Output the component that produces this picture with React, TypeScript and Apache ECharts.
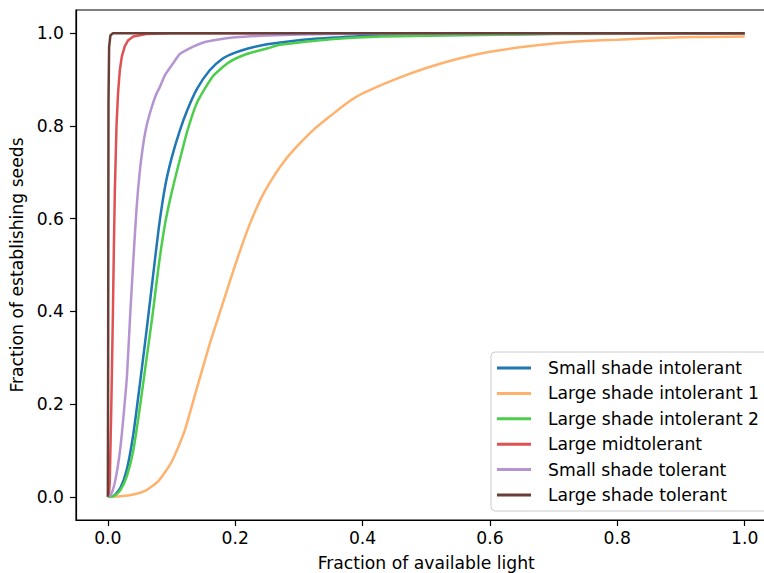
import React, { useEffect, useRef } from "react";
import * as echarts from "echarts";

const seriesNames = [
  "Small shade intolerant",
  "Large shade intolerant 1",
  "Large shade intolerant 2",
  "Large midtolerant",
  "Small shade tolerant",
  "Large shade tolerant",
];
const seriesColors = ["#1f77b4", "#ffb26e", "#4ccd4c", "#de5253", "#b495d1", "#683e38"];

const tickValues = [0, 0.2, 0.4, 0.6, 0.8, 1.0];

// Small shade intolerant
const smallIntolX = [0, 0.01, 0.02, 0.03, 0.04, 0.05, 0.06, 0.07, 0.08, 0.09, 0.1, 0.113, 0.125, 0.14, 0.16, 0.18, 0.2, 0.22, 0.25, 0.3, 0.35, 0.4, 0.5, 0.6, 0.8, 1.0];
const smallIntolY = [0, 0.003, 0.02, 0.06, 0.135, 0.24, 0.35, 0.465, 0.58, 0.67, 0.73, 0.79, 0.835, 0.88, 0.92, 0.945, 0.958, 0.967, 0.976, 0.985, 0.99, 0.994, 0.997, 0.998, 0.999, 1.0];

// Large shade intolerant 1
const largeIntol1X = [0, 0.02, 0.04, 0.06, 0.08, 0.1, 0.12, 0.14, 0.16, 0.18, 0.2, 0.22, 0.24, 0.26, 0.28, 0.3, 0.325, 0.35, 0.375, 0.4, 0.45, 0.5, 0.55, 0.6, 0.65, 0.7, 0.75, 0.8, 0.85, 0.9, 0.95, 1.0];
const largeIntol1Y = [0, 0.001, 0.005, 0.014, 0.035, 0.075, 0.14, 0.235, 0.33, 0.415, 0.5, 0.578, 0.642, 0.69, 0.729, 0.76, 0.794, 0.822, 0.849, 0.87, 0.9, 0.925, 0.945, 0.96, 0.97, 0.978, 0.983, 0.986, 0.989, 0.991, 0.992, 0.993];

// Large shade intolerant 2
const largeIntol2X = [0, 0.01, 0.02, 0.03, 0.04, 0.05, 0.06, 0.07, 0.08, 0.09, 0.1, 0.113, 0.125, 0.14, 0.165, 0.19, 0.218, 0.25, 0.27, 0.3, 0.35, 0.43, 0.53, 0.7, 1.0];
const largeIntol2Y = [0, 0.002, 0.015, 0.045, 0.1, 0.19, 0.29, 0.39, 0.5, 0.59, 0.655, 0.727, 0.79, 0.85, 0.907, 0.937, 0.955, 0.967, 0.975, 0.98, 0.987, 0.993, 0.995, 0.998, 0.999];

// Large midtolerant
const midTolX = [0, 0.002, 0.003, 0.0055, 0.008, 0.0094, 0.011, 0.0136, 0.016, 0.0188, 0.022, 0.0267, 0.032, 0.04, 0.06, 0.1, 1.0];
const midTolY = [0, 0.01, 0.03, 0.2, 0.4, 0.53, 0.66, 0.8, 0.87, 0.92, 0.95, 0.972, 0.985, 0.993, 0.998, 1.0, 1.0];

// Small shade tolerant
const smallTolX = [0, 0.005, 0.01, 0.015, 0.02, 0.025, 0.03, 0.035, 0.04, 0.045, 0.05, 0.055, 0.06, 0.066, 0.075, 0.082, 0.09, 0.1026, 0.113, 0.134, 0.15, 0.171, 0.2, 0.25, 0.3, 0.4, 1.0];
const smallTolY = [0, 0.005, 0.025, 0.06, 0.11, 0.18, 0.26, 0.39, 0.51, 0.62, 0.7, 0.755, 0.795, 0.827, 0.865, 0.885, 0.91, 0.935, 0.955, 0.971, 0.98, 0.986, 0.991, 0.995, 0.997, 0.999, 1.0];

// Large shade tolerant
const largeTolX = [0, 0.0005, 0.001, 0.002, 0.004, 0.008, 1.0];
const largeTolY = [0, 0.3, 0.85, 0.97, 0.995, 1.0, 1.0];

const allX = [smallIntolX, largeIntol1X, largeIntol2X, midTolX, smallTolX, largeTolX];
const allY = [smallIntolY, largeIntol1Y, largeIntol2Y, midTolY, smallTolY, largeTolY];
const smoothing = [0.2, 0.2, 0.2, 0, 0.2, 0];

const FONT = "DejaVu Sans";
const FS = 17.2;

export default function App() {
  const ref = useRef<HTMLDivElement>(null);
  useEffect(() => {
    if (!ref.current) return;
    const chart = echarts.init(ref.current, undefined, { renderer: "svg" });
    const series = seriesNames.map((name, i) => ({
      name,
      type: "line",
      data: allX[i].map((x, j) => [x, allY[i][j]]),
      showSymbol: false,
      smooth: smoothing[i] > 0 ? smoothing[i] : false,
      clip: false,
      color: seriesColors[i],
      lineStyle: { width: 2.5, color: seriesColors[i] },
      itemStyle: { color: seriesColors[i] },
    }));
    chart.setOption({
      animation: false,
      backgroundColor: "#ffffff",
      grid: {
        left: 76, right: 0.5, top: 10, bottom: 53,
        containLabel: false, outerBoundsMode: "none",
        show: true, borderColor: "#000", borderWidth: 1.2, backgroundColor: "transparent",
      },
      xAxis: {
        type: "value",
        min: -0.05,
        max: 1.05,
        name: "Fraction of available light",
        nameLocation: "middle",
        nameGap: 34,
        nameTextStyle: { fontFamily: FONT, fontSize: FS, color: "#000" },
        axisLine: { show: true, onZero: false, lineStyle: { color: "#000", width: 1.2 } },
        axisTick: { show: true, length: 6, lineStyle: { color: "#000", width: 1.2 }, customValues: tickValues },
        axisLabel: { show: true, margin: 9, fontFamily: FONT, fontSize: FS, color: "#000", customValues: tickValues, formatter: (v: number) => v.toFixed(1) },
        splitLine: { show: false },
      },
      yAxis: {
        type: "value",
        min: -0.05,
        max: 1.05,
        name: "Fraction of establishing seeds",
        nameLocation: "middle",
        nameGap: 45,
        nameTextStyle: { fontFamily: FONT, fontSize: FS, color: "#000" },
        axisLine: { show: true, onZero: false, lineStyle: { color: "#000", width: 1.2 } },
        axisTick: { show: true, length: 6, lineStyle: { color: "#000", width: 1.2 }, customValues: tickValues },
        axisLabel: { show: true, margin: 12, fontFamily: FONT, fontSize: FS, color: "#000", customValues: tickValues, formatter: (v: number) => v.toFixed(1) },
        splitLine: { show: false },
      },
      legend: {
        orient: "vertical",
        left: 491,
        top: 352,
        padding: [6, 10, 6, 6],
        itemGap: 5.4,
        itemWidth: 34,
        itemHeight: 3,
        icon: "rect",
        backgroundColor: "rgba(255,255,255,0.8)",
        borderColor: "#cccccc",
        borderWidth: 1,
        borderRadius: 4,
        textStyle: { fontFamily: FONT, fontSize: FS, color: "#000", lineHeight: 20, padding: [0, 0, 0, 12] },
        data: seriesNames,
      },
      series,
    });
    return () => chart.dispose();
  }, []);
  return (
    <div style={{ position: "fixed", left: 0, top: 0, width: 764, height: 573, overflow: "hidden" }}>
      <div ref={ref} style={{ width: 777, height: 573 }} />
    </div>
  );
}
